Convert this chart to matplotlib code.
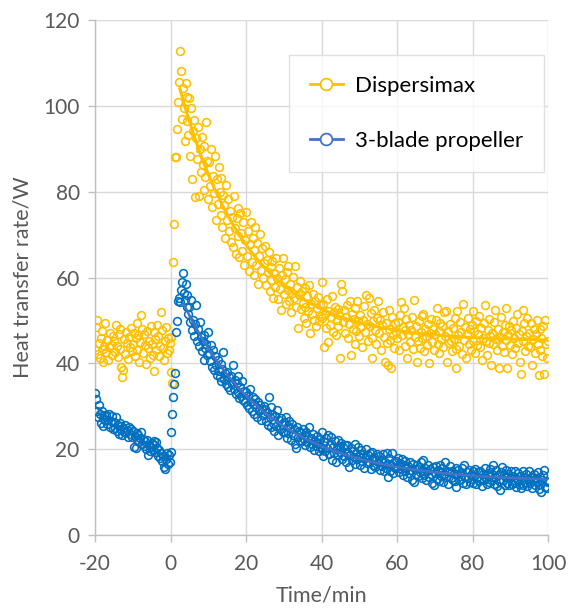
import numpy as np
import matplotlib
matplotlib.use('Agg')
import matplotlib.pyplot as plt
from matplotlib.lines import Line2D

plt.rcParams['font.family'] = ['Lato', 'DejaVu Sans']
plt.rcParams['axes.unicode_minus'] = False

# ---------------- data ----------------
T_START = -20.0   # min, first sample
T_STEP = 0.25     # min, sampling interval

series_names = ['Dispersimax', '3-blade propeller']

dispersimax = [
    43.0, 48.5, 50.1, 42.1, 44.8, 41.3, 45.9, 47.6, 43.4, 40.2, 44.1, 49.3, 42.7, 45.5, 40.8, 43.9, 47.1, 44.3, 41.9, 46.4,
    45.2, 42.6, 48.9, 44.0, 41.5, 46.8, 43.3, 47.9, 39.1, 36.8, 38.5, 45.6, 42.2, 47.3, 44.7, 40.9, 46.1, 43.8, 48.2, 42.9,
    44.4, 47.0, 41.7, 45.8, 49.4, 43.1, 46.5, 40.4, 44.9, 51.3, 48.1, 42.5, 46.9, 44.2, 39.8, 47.5, 43.6, 45.3, 41.2, 48.7,
    44.6, 42.0, 47.2, 38.2, 45.7, 43.0, 49.0, 46.3, 41.6, 44.1, 52.0, 47.8, 43.5, 40.7, 45.1, 48.4, 42.4, 46.0, 43.2, 44.8,
    46.2, 38.0, 35.5, 63.5, 72.4, 88.1, 88.0, 94.5, 101.0, 105.5, 112.8, 108.0, 97.0, 104.2, 99.5, 91.8, 105.3, 96.4, 102.1, 93.2,
    101.8, 88.3, 99.6, 83.0, 94.1, 96.7, 78.8, 92.4, 87.5, 95.0, 79.1, 89.9, 84.6, 92.8, 86.2, 80.5, 90.7, 83.4, 96.3, 87.1,
    78.2, 86.9, 81.3, 90.0, 76.5, 83.7, 79.7, 88.2, 73.4, 82.9, 77.1, 85.8, 80.0, 74.6, 83.1, 71.8, 79.3, 76.8, 69.2, 81.6,
    73.5, 78.4, 70.9, 75.6, 68.3, 74.2, 67.0, 79.0, 71.5, 65.4, 73.8, 69.6, 76.1, 64.7, 75.0, 70.3, 66.2, 72.9, 62.8, 68.7,
    75.3, 65.1, 70.8, 61.4, 67.9, 73.0, 63.6, 69.2, 60.5, 66.4, 71.7, 62.9, 68.0, 58.6, 64.9, 70.1, 61.7, 66.8, 59.9, 63.4,
    67.4, 58.3, 64.0, 61.2, 65.9, 56.8, 62.5, 59.4, 63.8, 55.2, 61.0, 57.7, 64.6, 59.8, 54.9, 62.1, 57.3, 52.4, 60.6, 64.5,
    56.2, 59.7, 53.8, 61.3, 57.0, 62.7, 54.6, 58.4, 51.9, 56.5, 60.2, 55.3, 62.6, 53.1, 57.8, 48.2, 55.9, 59.1, 52.7, 56.8,
    54.0, 50.6, 57.5, 53.2, 49.4, 55.7, 52.1, 58.3, 47.0, 53.9, 51.4, 56.1, 50.2, 54.6, 48.7, 52.9, 55.4, 49.9, 53.5, 51.0,
    58.9, 50.5, 53.8, 43.9, 51.6, 48.3, 54.9, 45.0, 52.2, 49.0, 50.8, 55.7, 47.4, 51.9, 53.1, 46.6, 50.1, 52.6, 48.8, 51.3,
    41.2, 58.5, 56.9, 49.6, 52.4, 47.1, 50.9, 53.7, 45.8, 49.2, 54.6, 42.0, 51.5, 48.0, 50.3, 44.5, 52.8, 47.6, 54.6, 49.9,
    46.4, 51.2, 48.5, 43.7, 50.0, 53.4, 47.3, 56.0, 49.1, 45.2, 55.3, 48.7, 51.7, 46.0, 41.2, 49.8, 52.5, 47.7, 44.4, 50.6,
    54.5, 47.0, 50.2, 43.2, 48.9, 52.0, 46.1, 40.3, 49.5, 44.8, 39.5, 47.9, 52.4, 45.5, 38.9, 50.7, 46.7, 43.6, 49.3, 47.2,
    45.8, 49.6, 43.0, 51.2, 54.2, 46.5, 48.4, 52.8, 44.1, 47.7, 50.3, 41.2, 46.9, 49.0, 44.9, 47.8, 50.9, 43.4, 54.7, 46.2,
    48.6, 40.4, 45.3, 49.8, 43.6, 47.4, 51.0, 45.9, 51.5, 42.8, 48.1, 46.4, 44.2, 49.2, 40.0, 47.0, 50.4, 45.0, 48.0, 43.1,
    46.8, 50.0, 52.9, 44.5, 47.5, 42.3, 49.4, 45.6, 48.7, 43.8, 51.9, 46.3, 52.3, 40.2, 47.2, 44.7, 49.1, 45.2, 42.9, 48.2,
    45.7, 50.6, 43.4, 38.8, 52.3, 46.6, 44.0, 49.7, 47.4, 42.1, 53.8, 45.4, 48.5, 41.2, 46.9, 50.5, 44.6, 47.9, 43.0, 49.0,
    52.1, 45.3, 47.6, 42.5, 49.8, 44.2, 46.8, 51.0, 43.9, 48.3, 40.8, 46.0, 49.3, 53.6, 45.1, 42.0, 47.8, 44.8, 50.3, 46.4,
    39.6, 47.1, 44.4, 49.6, 52.4, 45.7, 43.1, 48.0, 38.8, 46.2, 50.7, 44.0, 47.3, 42.6, 49.0, 45.5, 52.8, 38.8, 46.6, 48.6,
    44.3, 47.7, 42.2, 49.9, 45.9, 43.5, 48.3, 51.4, 44.7, 46.9, 40.3, 37.5, 47.5, 52.4, 45.1, 49.3, 42.9, 46.3, 50.6, 44.1,
    47.0, 43.7, 49.5, 39.6, 45.6, 48.1, 42.4, 46.8, 50.2, 44.5, 37.3, 47.9, 43.0, 45.9, 41.8, 48.8, 37.5, 50.1, 44.6, 41.2,
    45.2,
]

propeller = [
    33.2, 31.6, 28.9, 27.6, 30.2, 28.3, 26.1, 28.8, 27.2, 25.4, 28.0, 26.7, 27.9, 25.8, 26.9, 28.1, 25.2, 26.6, 27.7, 24.8,
    26.3, 25.0, 27.4, 24.2, 25.7, 23.6, 26.0, 24.6, 25.3, 23.2, 24.9, 24.1, 25.6, 23.9, 24.4, 22.8, 25.1, 23.5, 24.7, 22.9,
    24.2, 20.5, 23.0, 20.3, 23.8, 22.1, 23.4, 21.6, 22.7, 24.0, 21.2, 22.4, 20.8, 21.9, 20.1, 22.2, 18.7, 21.0, 19.6, 20.6,
    21.4, 19.9, 20.9, 22.0, 19.3, 21.6, 20.2, 18.5, 19.8, 17.9, 19.1, 17.2, 18.4, 15.9, 15.4, 17.8, 19.2, 16.6, 18.6, 17.0,
    19.3, 24.1, 28.1, 32.2, 35.3, 37.7, 47.4, 49.9, 54.6, 55.3, 54.2, 57.2, 59.0, 61.0, 56.5, 54.8, 58.6, 53.2, 55.9, 51.4,
    53.2, 49.6, 54.7, 47.8, 50.1, 46.4, 49.2, 53.6, 45.3, 47.9, 44.0, 49.7, 46.2, 42.8, 45.1, 40.8, 46.6, 43.5, 44.6, 41.9,
    47.4, 42.3, 40.5, 44.2, 39.1, 43.0, 38.4, 41.6, 39.6, 37.2, 40.8, 38.1, 36.9, 39.8, 35.9, 38.6, 42.7, 36.3, 37.7, 35.2,
    38.0, 34.6, 36.8, 33.7, 37.0, 35.1, 39.6, 34.0, 36.2, 32.8, 35.5, 33.4, 37.1, 31.9, 34.4, 32.3, 35.8, 31.5, 33.6, 30.9,
    33.4, 30.2, 32.7, 29.5, 34.1, 31.0, 29.0, 32.2, 30.6, 28.3, 31.6, 29.8, 27.6, 31.1, 28.9, 30.4, 26.8, 29.3, 27.9, 30.0,
    29.4, 26.5, 28.7, 25.6, 32.2, 27.4, 29.9, 25.1, 28.2, 26.0, 24.3, 27.7, 25.5, 29.1, 23.3, 26.8, 24.7, 27.2, 25.9, 23.9,
    26.3, 24.0, 27.5, 22.6, 25.4, 23.7, 26.6, 24.9, 22.1, 25.8, 23.4, 24.6, 21.3, 20.2, 25.1, 22.9, 24.2, 21.8, 23.8, 22.0,
    24.8, 22.4, 23.3, 20.9, 24.0, 21.6, 22.8, 25.2, 20.4, 22.5, 21.2, 23.6, 19.9, 22.0, 20.8, 23.0, 21.4, 19.5, 22.3, 20.6,
    23.9, 20.1, 18.4, 21.7, 19.6, 22.5, 20.3, 23.3, 18.9, 21.0, 22.9, 17.5, 20.6, 19.2, 21.8, 17.1, 20.0, 22.1, 18.6, 20.8,
    19.4, 21.4, 17.8, 20.6, 18.3, 20.9, 16.9, 21.0, 19.0, 15.9, 18.7, 20.2, 17.4, 19.6, 18.1, 21.3, 16.6, 19.1, 17.7, 20.6,
    18.4, 16.2, 19.8, 17.3, 18.9, 15.7, 18.0, 20.1, 16.8, 18.6, 17.0, 19.0, 15.4, 17.8, 19.3, 16.4, 18.2, 15.9, 17.5, 18.8,
    16.9, 18.5, 15.2, 17.4, 16.1, 18.9, 14.8, 17.0, 15.7, 19.2, 13.6, 16.6, 17.9, 15.0, 16.4, 19.0, 14.4, 16.9, 15.5, 17.3,
    15.8, 17.9, 14.6, 16.7, 15.3, 17.6, 13.9, 16.2, 14.9, 17.2, 15.6, 13.5, 16.0, 14.4, 17.0, 15.1, 12.9, 16.5, 12.4, 15.4,
    14.2, 16.3, 13.7, 15.8, 14.6, 17.1, 13.2, 15.0, 17.5, 14.0, 15.6, 12.8, 14.9, 16.4, 13.4, 15.3, 14.1, 12.2, 15.9, 11.6,
    14.5, 16.0, 13.1, 15.2, 12.6, 14.8, 16.3, 13.8, 15.5, 12.3, 14.3, 17.1, 13.5, 15.0, 12.0, 14.6, 16.1, 13.2, 14.9, 12.7,
    14.2, 12.5, 15.6, 11.3, 13.9, 15.1, 12.8, 14.4, 13.0, 15.7, 12.2, 16.3, 13.6, 11.9, 14.7, 13.3, 15.2, 12.4, 14.0, 13.1,
    14.8, 12.1, 13.7, 15.4, 11.8, 13.4, 14.6, 12.6, 15.0, 13.0, 11.5, 14.1, 12.9, 15.6, 13.2, 11.9, 14.4, 12.4, 13.8, 15.3,
    12.7, 14.2, 16.3, 12.0, 13.6, 15.1, 11.4, 13.9, 12.5, 10.5, 14.7, 15.9, 12.8, 14.0, 11.7, 13.4, 15.2, 12.2, 14.3, 11.6,
    13.3, 14.9, 11.9, 13.7, 12.4, 15.0, 11.2, 13.1, 14.4, 12.0, 13.8, 10.9, 12.7, 14.8, 11.6, 13.5, 12.3, 14.1, 11.4, 13.0,
    14.8, 12.1, 13.6, 11.0, 12.9, 14.3, 11.7, 13.2, 12.5, 14.6, 10.8, 13.4, 11.9, 10.1, 12.8, 14.0, 15.2, 11.3, 12.6, 10.9,
    12.3,
]

fit_start = [2.5, 3.5]          # min, where each fitted decay curve begins
x_ticks = [-20, 0, 20, 40, 60, 80, 100]
y_ticks = [0, 20, 40, 60, 80, 100, 120]

# ---------------- styling ----------------
marker_colors = ['#FFC000', '#0070C0']
line_colors = ['#FFC000', '#4472C4']
grid_col = '#D9D9D9'
text_col = '#595959'


def fit_decay(t, y, t0):
    """Least-squares fit of y = A + B*exp(-(t-t0)/tau) for t >= t0."""
    m = t >= t0
    tt, yy = t[m], y[m]
    best = None
    for tau in np.linspace(3, 80, 771):
        X = np.column_stack([np.ones_like(tt), np.exp(-(tt - t0) / tau)])
        coef, *_ = np.linalg.lstsq(X, yy, rcond=None)
        sse = float(((X @ coef - yy) ** 2).sum())
        if best is None or sse < best[0]:
            best = (sse, coef[0], coef[1], tau)
    return best[1:]


fig = plt.figure(figsize=(5.68, 6.08), dpi=100)
ax = fig.add_axes([95 / 568, 1 - 535 / 608, 453 / 568, 515 / 608])

all_series = [np.array(dispersimax), np.array(propeller)]
for i, ys in enumerate(all_series):
    ts = T_START + T_STEP * np.arange(len(ys))
    ax.plot(ts, ys, linestyle='none', marker='o', markersize=5.6,
            markerfacecolor='none', markeredgecolor=marker_colors[i],
            markeredgewidth=1.15, zorder=3)

for i, ys in enumerate(all_series):
    ts = T_START + T_STEP * np.arange(len(ys))
    A, B, tau = fit_decay(ts, ys, fit_start[i])
    tc = np.linspace(fit_start[i], ts.max(), 300)
    ax.plot(tc, A + B * np.exp(-(tc - fit_start[i]) / tau),
            color=line_colors[i], lw=2.2 if i == 0 else 1.8, zorder=4)

ax.set_xlim(-20, 100)
ax.set_ylim(0, 120)
ax.set_xticks(x_ticks)
ax.set_yticks(y_ticks)
ax.grid(True, color=grid_col, lw=1.0, zorder=0)
ax.set_axisbelow(True)
for s in ['top', 'right']:
    ax.spines[s].set_visible(False)
for s in ['left', 'bottom']:
    ax.spines[s].set_color('#BFBFBF')
    ax.spines[s].set_linewidth(1.0)
ax.tick_params(axis='both', colors='#BFBFBF', length=5, width=1.0,
               labelcolor=text_col, labelsize=15, pad=6)
ax.tick_params(axis='x', pad=9)
ax.set_xlabel('Time/min', fontsize=15.5, color=text_col, labelpad=8)
ax.set_ylabel('Heat transfer rate/W', fontsize=15.5, color=text_col, labelpad=8)

handles = [Line2D([0], [0], color=line_colors[i], lw=2.0, marker='o',
                  markersize=8.5, markerfacecolor='white',
                  markeredgecolor=line_colors[i], markeredgewidth=1.3)
           for i in range(2)]
leg = ax.legend(handles, series_names, loc='upper right',
                bbox_to_anchor=(544 / 568, 1 - 55 / 608),
                bbox_transform=fig.transFigure, frameon=True, fancybox=False,
                edgecolor=grid_col, fontsize=16, handlelength=1.45,
                handletextpad=0.55, labelspacing=1.55, borderpad=0.95,
                borderaxespad=0)
leg.get_frame().set_linewidth(1.0)
for txt in leg.get_texts():
    txt.set_color('#000000')

fig.savefig('out.png', dpi=100)
